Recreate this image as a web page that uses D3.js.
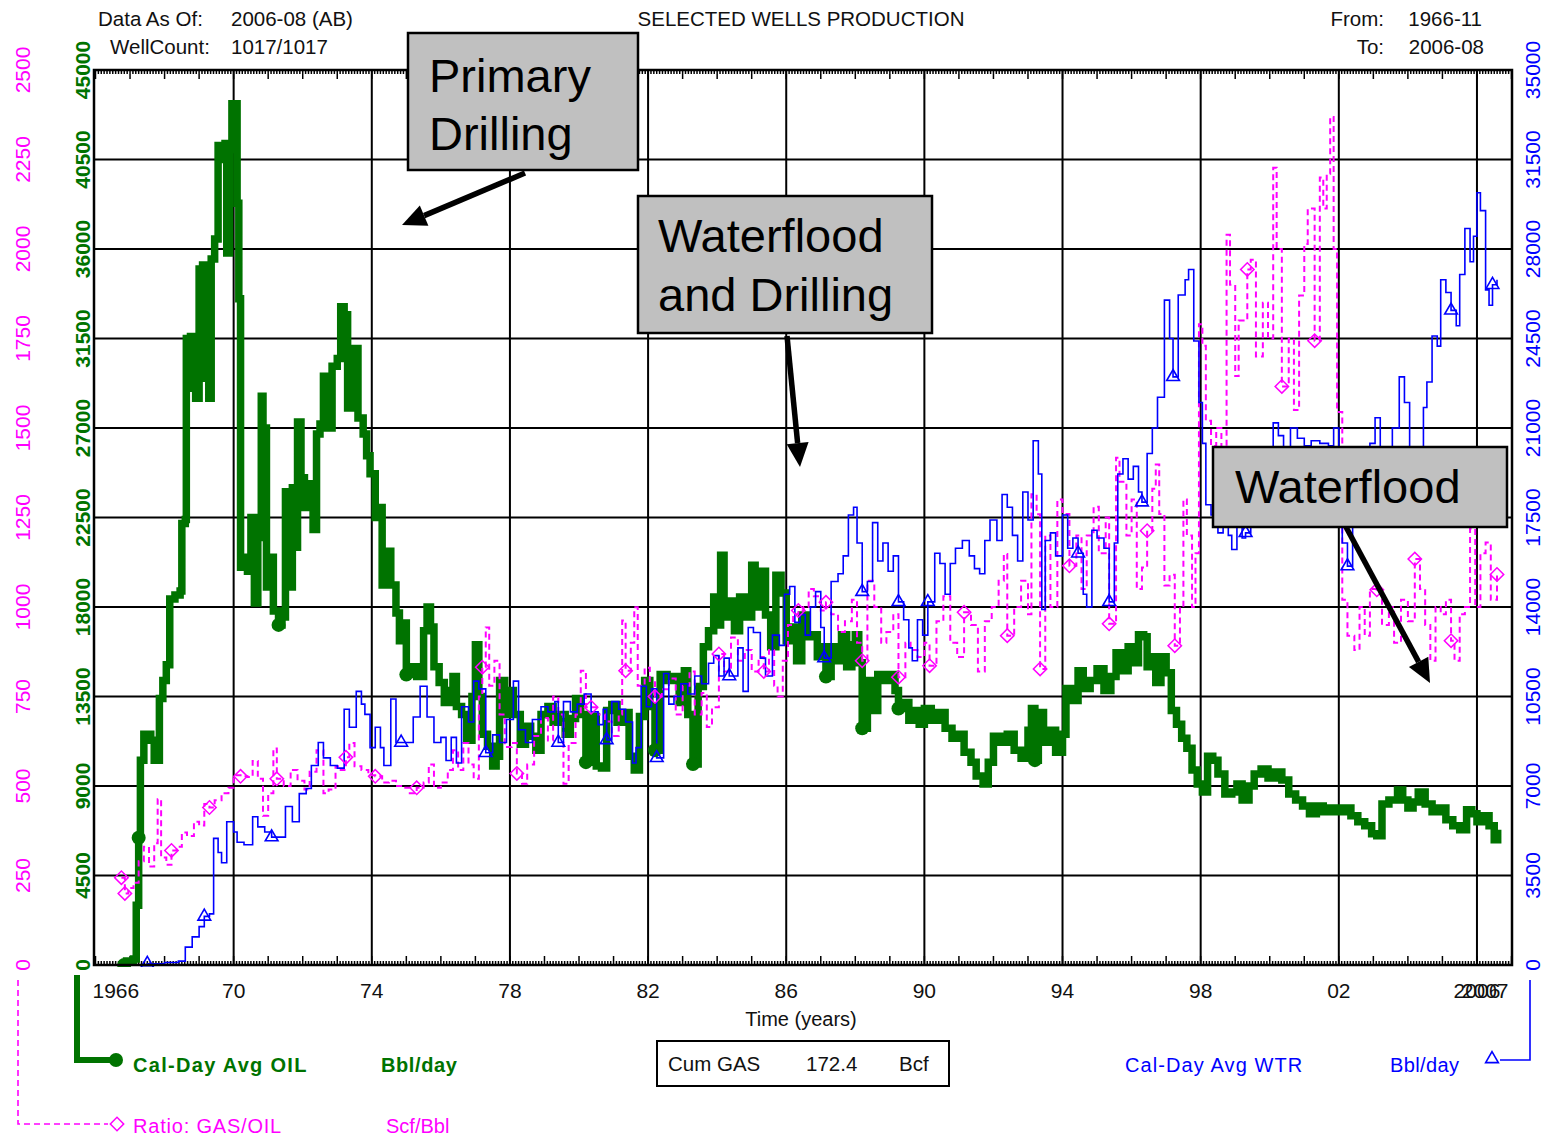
<!DOCTYPE html>
<html>
<head>
<meta charset="utf-8">
<script src="https://cdn.jsdelivr.net/npm/d3@7"></script>
<style>
  html, body { margin: 0; padding: 0; background: #ffffff; }
  svg { display: block; font-family: "Liberation Sans", Arial, sans-serif; }
</style>
</head>
<body>
<svg id="chart" width="1544" height="1136"></svg>
<script>
// ---- Production history: [decimal year, value] ----
// Calendar-day average oil rate, Bbl/day
const oilPoints = [
  [1966.83,0],[1966.9,200],[1967.1,300],[1967.18,3000],[1967.25,6400],[1967.3,10300],[1967.4,11600],
  [1967.6,11300],[1967.7,10300],[1967.85,13400],[1967.95,14300],[1968.05,15100],[1968.15,18400],
  [1968.3,18600],[1968.45,18800],[1968.5,22200],[1968.6,22400],[1968.63,31500],[1968.75,31600],
  [1968.82,29000],[1968.9,28500],[1969.0,35000],[1969.1,35200],[1969.2,29500],[1969.28,28500],
  [1969.35,35500],[1969.45,36500],[1969.55,41200],[1969.65,40500],[1969.75,41300],[1969.8,35800],
  [1969.88,41000],[1969.95,43300],[1970.05,43300],[1970.1,38300],[1970.15,33500],[1970.2,20000],
  [1970.3,20500],[1970.4,19800],[1970.5,22500],[1970.6,18200],[1970.7,21500],[1970.8,28600],
  [1970.85,27000],[1970.95,19000],[1971.05,20500],[1971.15,17800],[1971.3,17100],[1971.4,17500],
  [1971.5,23800],[1971.6,19000],[1971.7,24000],[1971.8,21000],[1971.85,27300],[1971.95,24500],
  [1972.05,23000],[1972.15,24200],[1972.3,21900],[1972.4,26700],[1972.5,27200],[1972.6,29600],
  [1972.7,27000],[1972.85,30100],[1973.0,30500],[1973.1,33100],[1973.2,32700],[1973.3,28000],
  [1973.4,31000],[1973.5,31000],[1973.6,27500],[1973.75,26700],[1973.85,25600],[1973.95,24700],
  [1974.1,22500],[1974.2,23000],[1974.3,19100],[1974.45,20800],[1974.55,19100],[1974.7,17700],
  [1974.8,16300],[1974.9,17200],[1975.0,14600],[1975.15,15000],[1975.3,14500],[1975.5,16800],
  [1975.6,18000],[1975.7,17000],[1975.8,15000],[1975.95,14200],[1976.1,13200],[1976.25,13800],
  [1976.35,14500],[1976.45,13000],[1976.6,12600],[1976.75,11300],[1976.9,13500],[1977.0,16100],
  [1977.1,13500],[1977.2,11600],[1977.35,11000],[1977.5,10000],[1977.6,10500],[1977.7,14300],
  [1977.85,12600],[1978.0,13800],[1978.1,12600],[1978.3,11100],[1978.45,12000],[1978.6,11500],
  [1978.75,10800],[1978.9,12600],[1979.1,13000],[1979.25,12200],[1979.4,12600],[1979.6,11600],
  [1979.75,12400],[1979.9,13400],[1980.05,12600],[1980.2,10200],[1980.35,12500],[1980.5,10000],
  [1980.65,9900],[1980.8,12800],[1980.95,13100],[1981.1,12200],[1981.3,12700],[1981.45,10500],
  [1981.6,9800],[1981.75,12500],[1981.9,14300],[1982.05,13000],[1982.2,10800],[1982.35,14600],
  [1982.55,14300],[1982.75,14500],[1982.9,13200],[1983.05,14800],[1983.15,12600],[1983.3,10100],
  [1983.45,14000],[1983.6,16000],[1983.75,16800],[1983.9,18500],[1984.0,17100],[1984.1,20600],
  [1984.2,17500],[1984.35,18300],[1984.5,16800],[1984.65,18500],[1984.8,17500],[1985.0,20100],
  [1985.1,18000],[1985.25,19800],[1985.4,17600],[1985.55,16000],[1985.7,19600],[1985.85,18700],
  [1986.0,16300],[1986.15,17000],[1986.3,15300],[1986.45,17600],[1986.6,16500],[1986.75,16600],
  [1986.9,15500],[1987.05,16000],[1987.15,14500],[1987.3,16000],[1987.45,15300],[1987.6,16600],
  [1987.75,15000],[1987.9,16100],[1988.0,16600],[1988.1,15200],[1988.2,11900],[1988.35,14300],
  [1988.5,12800],[1988.65,14600],[1988.85,14300],[1989.0,14600],[1989.15,13800],[1989.25,12900],
  [1989.4,13200],[1989.55,12300],[1989.7,12800],[1989.85,12100],[1990.0,12900],[1990.2,12300],
  [1990.4,12700],[1990.6,11900],[1990.8,11400],[1991.0,11600],[1991.15,10700],[1991.35,10200],
  [1991.5,9500],[1991.7,9100],[1991.85,10200],[1992.0,11500],[1992.2,11200],[1992.4,11600],
  [1992.6,10800],[1992.8,10400],[1993.0,11800],[1993.1,12900],[1993.2,10300],[1993.3,12700],
  [1993.45,11200],[1993.6,11800],[1993.8,10700],[1994.0,11600],[1994.1,13900],[1994.3,13300],
  [1994.45,14800],[1994.6,13900],[1994.8,14300],[1995.0,14900],[1995.2,13800],[1995.4,14500],
  [1995.55,15700],[1995.7,14800],[1995.9,16000],[1996.05,15200],[1996.2,16600],[1996.35,16500],
  [1996.45,15000],[1996.55,15500],[1996.7,14200],[1996.85,15500],[1997.0,14700],[1997.15,12800],
  [1997.3,12100],[1997.45,11400],[1997.6,10900],[1997.75,9800],[1997.9,9100],[1998.05,8700],
  [1998.2,10500],[1998.35,10300],[1998.5,9600],[1998.7,8600],[1998.9,8700],[1999.05,9100],
  [1999.2,8300],[1999.4,9000],[1999.55,9600],[1999.75,9850],[1999.95,9400],[2000.15,9700],
  [2000.35,9300],[2000.55,8600],[2000.75,8300],[2000.95,8000],[2001.15,7600],[2001.35,8000],
  [2001.55,7700],[2001.75,7900],[2001.95,7700],[2002.15,7900],[2002.35,7500],[2002.55,7200],
  [2002.75,7000],[2002.95,6600],[2003.1,6500],[2003.25,8100],[2003.45,8300],[2003.7,8800],
  [2003.85,8300],[2004.0,7900],[2004.15,8200],[2004.3,8700],[2004.5,8100],[2004.7,7700],
  [2004.9,7900],[2005.1,7300],[2005.3,7000],[2005.5,6800],[2005.7,7800],[2005.85,7600],
  [2006.0,7200],[2006.2,7500],[2006.35,7000],[2006.5,6300],[2006.6,6800]
];
const oilMarkYears = [1966.83, 1967.25, 1971.3, 1975.0, 1980.2, 1982.2, 1983.3, 1987.15, 1988.2, 1989.25, 1993.2];

// Calendar-day average water rate, Bbl/day
const waterPoints = [
  [1966.83,0],[1967.5,50],[1968.0,100],[1968.4,150],[1968.6,700],[1968.8,1100],[1969.0,1500],
  [1969.15,1900],[1969.3,2000],[1969.42,4950],[1969.55,4400],[1969.65,4000],[1969.8,5600],
  [1970.0,5200],[1970.1,4800],[1970.3,4700],[1970.45,4700],[1970.55,5800],[1970.7,5400],
  [1970.9,5200],[1971.1,5000],[1971.3,5000],[1971.5,6200],[1971.7,5600],[1971.9,6700],
  [1972.1,6900],[1972.25,7800],[1972.45,8700],[1972.6,8100],[1972.8,7800],[1973.0,7700],
  [1973.2,10000],[1973.35,9300],[1973.55,10700],[1973.7,10200],[1973.8,9800],[1973.95,8500],
  [1974.1,9300],[1974.25,8500],[1974.35,7800],[1974.55,10400],[1974.7,8700],[1974.85,8700],
  [1975.0,8700],[1975.2,9700],[1975.4,10900],[1975.6,9700],[1975.8,8700],[1976.0,8900],
  [1976.15,8000],[1976.3,8900],[1976.45,7900],[1976.6,10100],[1976.8,9500],[1976.95,11100],
  [1977.1,10800],[1977.3,8300],[1977.5,9000],[1977.7,8700],[1977.9,9600],[1978.1,11100],
  [1978.25,9200],[1978.45,8700],[1978.65,9600],[1978.9,10100],[1979.1,9900],[1979.3,10300],
  [1979.4,8700],[1979.55,10300],[1979.75,9900],[1979.95,10200],[1980.15,10600],[1980.35,9900],
  [1980.55,9400],[1980.7,10000],[1980.8,8800],[1980.95,10300],[1981.15,10000],[1981.35,9500],
  [1981.55,7900],[1981.65,8500],[1981.8,10900],[1981.95,10100],[1982.1,10800],[1982.25,8100],
  [1982.45,11400],[1982.6,10200],[1982.75,10500],[1982.95,11000],[1983.15,10600],[1983.35,11300],
  [1983.55,11000],[1983.75,11800],[1983.9,12100],[1984.05,11300],[1984.2,12000],[1984.35,11300],
  [1984.5,11300],[1984.6,12400],[1984.75,10700],[1984.9,13200],[1985.05,13000],[1985.25,12000],
  [1985.4,11300],[1985.6,12900],[1985.8,12500],[1985.95,14500],[1986.1,14800],[1986.25,13400],
  [1986.4,13700],[1986.55,12900],[1986.7,14000],[1986.85,14600],[1987.0,13200],[1987.1,12000],
  [1987.3,15000],[1987.5,15300],[1987.65,16000],[1987.8,17600],[1987.95,17900],[1988.05,16500],
  [1988.2,14600],[1988.35,15000],[1988.5,17300],[1988.65,15800],[1988.8,16500],[1988.95,15400],
  [1989.1,16000],[1989.25,14200],[1989.4,13500],[1989.55,12400],[1989.65,11900],[1989.8,13500],
  [1989.95,12900],[1990.1,14200],[1990.3,16100],[1990.45,15700],[1990.6,14500],[1990.75,15700],
  [1990.9,16300],[1991.1,16600],[1991.3,16000],[1991.45,15500],[1991.6,15300],[1991.75,16600],
  [1991.9,17400],[1992.1,16600],[1992.25,18400],[1992.4,17900],[1992.55,16800],[1992.7,15800],
  [1992.85,18500],[1993.0,17400],[1993.15,20500],[1993.3,19200],[1993.4,13900],[1993.5,16600],
  [1993.65,16900],[1993.8,16000],[1994.0,17600],[1994.15,16300],[1994.3,16700],[1994.45,16100],
  [1994.6,14500],[1994.7,14000],[1994.85,17000],[1995.0,16700],[1995.2,16300],[1995.35,14200],
  [1995.5,16500],[1995.6,19200],[1995.75,19800],[1995.9,19000],[1996.05,19500],[1996.2,18500],
  [1996.3,18100],[1996.45,20000],[1996.6,21000],[1996.75,22200],[1996.95,26000],[1997.1,24500],
  [1997.2,23000],[1997.35,26200],[1997.55,26800],[1997.65,27200],[1997.8,24400],[1997.95,22000],
  [1998.05,20400],[1998.15,18000],[1998.3,17600],[1998.5,16900],[1998.65,17400],[1998.8,16800],
  [1998.9,16250],[1999.05,17200],[1999.2,16700],[1999.3,16900],[1999.45,17900],[1999.6,17300],
  [1999.75,18400],[1999.9,20000],[2000.1,21200],[2000.25,20700],[2000.4,20200],[2000.6,21000],
  [2000.8,20600],[2001.0,20300],[2001.2,20500],[2001.45,20400],[2001.7,20300],[2001.85,21000],
  [2002.0,19600],[2002.1,16500],[2002.25,15600],[2002.4,17200],[2002.55,17500],[2002.7,18600],
  [2002.9,20400],[2003.05,21400],[2003.2,19500],[2003.4,19800],[2003.55,21000],[2003.75,23000],
  [2003.9,22000],[2004.05,19500],[2004.15,17500],[2004.3,19000],[2004.45,21800],[2004.55,22800],
  [2004.7,24600],[2004.85,24200],[2004.95,26800],[2005.1,26300],[2005.25,25600],[2005.4,25000],
  [2005.5,27000],[2005.65,28800],[2005.8,27500],[2005.9,28500],[2006.0,30200],[2006.1,29500],
  [2006.25,26400],[2006.35,25800],[2006.45,26600],[2006.58,26800]
];
const waterMarkYears = [1967.5, 1969.15, 1971.1, 1974.85, 1977.3, 1979.4, 1980.8, 1982.25, 1984.35,
  1987.1, 1988.2, 1989.25, 1990.1, 1994.45, 1995.35, 1996.3, 1997.2, 1999.3, 2002.25, 2005.25, 2006.45];

// Gas/oil ratio, Scf/Bbl
const gorPoints = [
  [1966.75,244],[1966.85,200],[1966.95,215],[1967.1,230],[1967.25,290],[1967.4,330],[1967.55,275],
  [1967.7,340],[1967.8,463],[1967.9,300],[1968.05,280],[1968.2,320],[1968.35,330],[1968.5,370],
  [1968.65,360],[1968.85,400],[1969.0,390],[1969.15,450],[1969.3,440],[1969.45,460],[1969.65,480],
  [1969.85,495],[1970.0,530],[1970.2,527],[1970.4,525],[1970.55,570],[1970.7,520],[1970.85,417],
  [1971.0,480],[1971.15,605],[1971.25,520],[1971.45,500],[1971.65,545],[1971.85,515],[1972.05,490],
  [1972.2,540],[1972.4,600],[1972.6,480],[1972.75,490],[1972.95,555],[1973.1,545],[1973.25,580],
  [1973.35,620],[1973.5,555],[1973.7,545],[1973.9,530],[1974.1,527],[1974.3,510],[1974.5,515],
  [1974.7,500],[1974.9,495],[1975.1,480],[1975.3,495],[1975.5,510],[1975.65,560],[1975.8,495],
  [1976.0,510],[1976.2,545],[1976.35,600],[1976.5,545],[1976.65,620],[1976.8,560],[1976.95,520],
  [1977.1,750],[1977.2,832],[1977.3,943],[1977.4,780],[1977.55,850],[1977.7,700],[1977.85,609],
  [1978.05,620],[1978.2,535],[1978.35,506],[1978.5,560],[1978.7,640],[1978.9,690],[1979.1,627],
  [1979.25,750],[1979.4,700],[1979.55,506],[1979.7,620],[1979.9,700],[1980.05,822],[1980.2,720],
  [1980.35,720],[1980.55,700],[1980.75,680],[1980.95,640],[1981.15,700],[1981.25,962],[1981.35,822],
  [1981.5,900],[1981.6,999],[1981.7,780],[1981.9,830],[1982.05,790],[1982.2,750],[1982.4,770],
  [1982.6,800],[1982.8,700],[1983.0,780],[1983.2,820],[1983.35,700],[1983.55,760],[1983.7,665],
  [1983.85,720],[1984.05,869],[1984.2,820],[1984.4,915],[1984.6,850],[1984.8,880],[1985.0,820],
  [1985.2,860],[1985.35,820],[1985.5,880],[1985.65,780],[1985.75,750],[1985.9,850],[1986.05,950],
  [1986.2,980],[1986.35,990],[1986.5,1000],[1986.65,1050],[1986.8,1030],[1987.0,990],[1987.15,1013],
  [1987.3,980],[1987.5,930],[1987.7,960],[1987.9,1020],[1988.05,900],[1988.2,850],[1988.35,1073],
  [1988.55,1000],[1988.75,900],[1988.9,930],[1989.1,980],[1989.25,804],[1989.45,900],[1989.6,880],
  [1989.8,860],[1990.0,900],[1990.15,836],[1990.35,960],[1990.55,1030],[1990.75,900],[1990.95,860],
  [1991.15,985],[1991.35,950],[1991.55,820],[1991.75,960],[1991.95,1000],[1992.15,1073],[1992.3,1148],
  [1992.4,920],[1992.6,1000],[1992.8,1073],[1993.0,980],[1993.1,1315],[1993.25,1259],[1993.35,827],
  [1993.5,1200],[1993.65,1000],[1993.85,1300],[1994.0,1260],[1994.2,1115],[1994.4,1200],[1994.55,1050],
  [1994.7,1200],[1994.9,1280],[1995.05,1150],[1995.25,1250],[1995.35,953],[1995.55,1417],[1995.65,1350],
  [1995.85,1200],[1996.0,1300],[1996.15,1050],[1996.3,1110],[1996.45,1213],[1996.6,1330],[1996.7,1398],
  [1996.8,1260],[1996.95,1060],[1997.1,1090],[1997.25,892],[1997.4,1000],[1997.5,1300],[1997.6,1200],
  [1997.75,1000],[1997.85,1150],[1997.95,1790],[1998.05,1730],[1998.15,1520],[1998.3,1450],[1998.45,1500],
  [1998.6,1280],[1998.75,2040],[1998.85,1900],[1999.0,1645],[1999.1,1800],[1999.35,1943],[1999.45,1970],
  [1999.6,1700],[1999.8,1850],[1999.95,1750],[2000.1,2227],[2000.2,2000],[2000.35,1616],[2000.55,1750],
  [2000.7,1550],[2000.85,1870],[2001.0,2014],[2001.1,2113],[2001.3,1744],[2001.45,2200],[2001.55,2113],
  [2001.65,2210],[2001.75,2369],[2001.85,2000],[2001.95,1545],[2002.1,1020],[2002.25,920],[2002.45,880],
  [2002.6,1000],[2002.75,920],[2002.9,1050],[2003.1,1048],[2003.25,950],[2003.45,1000],[2003.6,900],
  [2003.8,1020],[2004.0,960],[2004.2,1134],[2004.35,1050],[2004.5,950],[2004.65,850],[2004.8,1000],
  [2004.95,980],[2005.1,1020],[2005.25,906],[2005.35,850],[2005.5,980],[2005.65,1000],[2005.8,1219],
  [2005.95,1000],[2006.1,1150],[2006.25,1180],[2006.4,1020],[2006.58,1091]
];
const gorMarkYears = [1966.75, 1966.85, 1968.2, 1969.3, 1970.2, 1971.25, 1973.25, 1974.1, 1975.3, 1977.2,
  1978.2, 1980.35, 1981.35, 1982.2, 1984.05, 1985.35, 1986.35, 1987.15, 1988.2, 1989.25, 1990.15,
  1991.15, 1992.4, 1993.35, 1994.2, 1995.35, 1996.45, 1997.25, 1999.35, 2000.35, 2001.3, 2003.1,
  2004.2, 2005.25, 2006.58];

// ---- Axis ticks and labels ----
const oilTicks = [0, 4500, 9000, 13500, 18000, 22500, 27000, 31500, 36000, 40500, 45000];
const gorTicks = [0, 250, 500, 750, 1000, 1250, 1500, 1750, 2000, 2250, 2500];
const waterTicks = [0, 3500, 7000, 10500, 14000, 17500, 21000, 24500, 28000, 31500, 35000];
const gridYears = [1970, 1974, 1978, 1982, 1986, 1990, 1994, 1998, 2002, 2006];
const yearLabels = [
  { year: 1966, text: "1966", anchor: "start", dx: -3 },
  { year: 1970, text: "70" }, { year: 1974, text: "74" }, { year: 1978, text: "78" },
  { year: 1982, text: "82" }, { year: 1986, text: "86" }, { year: 1990, text: "90" },
  { year: 1994, text: "94" }, { year: 1998, text: "98" }, { year: 2002, text: "02" },
  { year: 2006, text: "2006" },
  { year: 2007, text: "2007", anchor: "end", dx: -3 }
];

// ---- Colours ----
const OIL = "#007300", GOR = "#ff00ff", WTR = "#0000ff";

const svg = d3.select("#chart");
const L = 94, R = 1512, T = 70, B = 965;

const x = d3.scaleLinear().domain([1966, 2007]).range([95.5, 1511.5]);
const yOil = d3.scaleLinear().domain([0, 45000]).range([B, T]);
const yGor = d3.scaleLinear().domain([0, 2500]).range([B, T]);
const yWtr = d3.scaleLinear().domain([0, 35000]).range([B, T]);

svg.append("defs").append("clipPath").attr("id", "plotClip")
  .append("rect").attr("x", L).attr("y", T - 2).attr("width", R - L).attr("height", B - T + 4);

// ---- Grid ----
const grid = svg.append("g");
grid.selectAll("line.h").data(oilTicks).join("line")
  .attr("x1", L).attr("x2", R)
  .attr("y1", d => yOil(d)).attr("y2", d => yOil(d))
  .attr("stroke", "#000").attr("stroke-width", 2);
grid.selectAll("line.v").data(gridYears).join("line")
  .attr("x1", d => x(d)).attr("x2", d => x(d))
  .attr("y1", T).attr("y2", B)
  .attr("stroke", "#000").attr("stroke-width", 2);

// monthly / yearly ticks along top and bottom edges, pointing inward
const months = d3.range(0, 41 * 12 + 1);
const tickG = svg.append("g").attr("stroke", "#000").attr("stroke-width", 1.5);
months.forEach(m => {
  const xx = x(1966 + m / 12);
  const len = m % 12 === 0 ? 9 : 4;
  tickG.append("line").attr("x1", xx).attr("x2", xx).attr("y1", B).attr("y2", B - len);
  tickG.append("line").attr("x1", xx).attr("x2", xx).attr("y1", T).attr("y2", T + len);
});

// ---- Series ----
const plot = svg.append("g").attr("clip-path", "url(#plotClip)");

const lineOil = d3.line().x(d => x(d[0])).y(d => yOil(d[1])).curve(d3.curveStepAfter);
const lineGor = d3.line().x(d => x(d[0])).y(d => yGor(d[1])).curve(d3.curveStepAfter);
const lineWtr = d3.line().x(d => x(d[0])).y(d => yWtr(d[1])).curve(d3.curveStepAfter);

plot.append("path").datum(oilPoints).attr("d", lineOil)
  .attr("fill", "none").attr("stroke", OIL).attr("stroke-width", 7.5).attr("stroke-linejoin", "miter");

plot.append("path").datum(gorPoints).attr("d", lineGor)
  .attr("fill", "none").attr("stroke", GOR).attr("stroke-width", 2).attr("stroke-dasharray", "6,4");

plot.append("path").datum(waterPoints).attr("d", lineWtr)
  .attr("fill", "none").attr("stroke", WTR).attr("stroke-width", 1.6);

const pick = (pts, yrs) => pts.filter(p => yrs.includes(p[0]));

plot.selectAll("circle.oilmk").data(pick(oilPoints, oilMarkYears)).join("circle")
  .attr("cx", d => x(d[0])).attr("cy", d => yOil(d[1])).attr("r", 7).attr("fill", OIL);

const diamond = d3.symbol().type(d3.symbolSquare).size(90);
plot.selectAll("path.gormk").data(pick(gorPoints, gorMarkYears)).join("path")
  .attr("d", diamond)
  .attr("transform", d => `translate(${x(d[0])},${yGor(d[1])}) rotate(45)`)
  .attr("fill", "none").attr("stroke", GOR).attr("stroke-width", 1.5);

const tri = d3.symbol().type(d3.symbolTriangle).size(70);
plot.selectAll("path.wtrmk").data(pick(waterPoints, waterMarkYears)).join("path")
  .attr("d", tri)
  .attr("transform", d => `translate(${x(d[0])},${yWtr(d[1])})`)
  .attr("fill", "none").attr("stroke", WTR).attr("stroke-width", 1.6);

// ---- Frame ----
svg.append("rect").attr("x", L).attr("y", T).attr("width", R - L).attr("height", B - T)
  .attr("fill", "none").attr("stroke", "#000").attr("stroke-width", 2.5);

// ---- Y axis labels (rotated) ----
const rotLabel = (vals, scale, xPos, color, bold) => {
  svg.append("g").selectAll("text").data(vals).join("text")
    .attr("transform", d => `translate(${xPos},${scale(d)}) rotate(-90)`)
    .attr("text-anchor", "middle")
    .attr("font-size", 21)
    .attr("font-weight", bold ? "bold" : "normal")
    .attr("fill", color)
    .text(d => d);
};
rotLabel(gorTicks, yGor, 30, GOR, false);
rotLabel(oilTicks, yOil, 90, OIL, true);
rotLabel(waterTicks, yWtr, 1540, WTR, false);

// ---- X axis labels ----
svg.append("g").selectAll("text").data(yearLabels).join("text")
  .attr("x", d => x(d.year) + (d.dx || 0)).attr("y", 998)
  .attr("text-anchor", d => d.anchor || "middle")
  .attr("font-size", 21).attr("fill", "#111")
  .text(d => d.text);

svg.append("text").attr("x", 801).attr("y", 1026).attr("text-anchor", "middle")
  .attr("font-size", 20).attr("fill", "#111").text("Time (years)");

// ---- Header ----
const head = svg.append("g").attr("font-size", 20.5).attr("fill", "#111");
head.append("text").attr("x", 98).attr("y", 26).text("Data As Of:");
head.append("text").attr("x", 231).attr("y", 26).text("2006-08 (AB)");
head.append("text").attr("x", 110).attr("y", 54).text("WellCount:");
head.append("text").attr("x", 231).attr("y", 54).text("1017/1017");
head.append("text").attr("x", 801).attr("y", 26).attr("text-anchor", "middle").text("SELECTED WELLS PRODUCTION");
head.append("text").attr("x", 1384).attr("y", 26).attr("text-anchor", "end").text("From:");
head.append("text").attr("x", 1482).attr("y", 26).attr("text-anchor", "end").text("1966-11");
head.append("text").attr("x", 1384).attr("y", 54).attr("text-anchor", "end").text("To:");
head.append("text").attr("x", 1484).attr("y", 54).attr("text-anchor", "end").text("2006-08");

// ---- Cumulative gas box ----
svg.append("rect").attr("x", 657).attr("y", 1041).attr("width", 292).attr("height", 45)
  .attr("fill", "#fff").attr("stroke", "#000").attr("stroke-width", 2);
const cum = svg.append("g").attr("font-size", 20.5).attr("fill", "#111");
cum.append("text").attr("x", 668).attr("y", 1071).text("Cum GAS");
cum.append("text").attr("x", 806).attr("y", 1071).text("172.4");
cum.append("text").attr("x", 899).attr("y", 1071).text("Bcf");

// ---- Legend ----
const leg = svg.append("g");
leg.append("path").attr("d", "M77,975 V1060 H112")
  .attr("fill", "none").attr("stroke", OIL).attr("stroke-width", 6);
leg.append("circle").attr("cx", 116).attr("cy", 1060).attr("r", 7).attr("fill", OIL);
leg.append("text").attr("x", 133).attr("y", 1072).attr("font-size", 20).attr("font-weight", "bold")
  .attr("letter-spacing", 1.3).attr("fill", OIL).text("Cal-Day Avg OIL");
leg.append("text").attr("x", 381).attr("y", 1072).attr("font-size", 20).attr("font-weight", "bold")
  .attr("letter-spacing", 0.6).attr("fill", OIL).text("Bbl/day");

leg.append("path").attr("d", "M18,980 V1124 H108")
  .attr("fill", "none").attr("stroke", GOR).attr("stroke-width", 1.6).attr("stroke-dasharray", "6,4");
leg.append("path").attr("d", diamond).attr("transform", "translate(117,1124) rotate(45)")
  .attr("fill", "none").attr("stroke", GOR).attr("stroke-width", 1.5);
leg.append("text").attr("x", 133).attr("y", 1133).attr("font-size", 20).attr("letter-spacing", 0.8)
  .attr("fill", GOR).text("Ratio: GAS/OIL");
leg.append("text").attr("x", 386).attr("y", 1133).attr("font-size", 20).attr("fill", GOR).text("Scf/Bbl");

leg.append("path").attr("d", "M1500,1060 H1530 V980")
  .attr("fill", "none").attr("stroke", WTR).attr("stroke-width", 1.6);
leg.append("path").attr("d", tri).attr("transform", "translate(1492,1059)")
  .attr("fill", "none").attr("stroke", WTR).attr("stroke-width", 1.6);
leg.append("text").attr("x", 1125).attr("y", 1072).attr("font-size", 20).attr("letter-spacing", 1.1)
  .attr("fill", WTR).text("Cal-Day Avg WTR");
leg.append("text").attr("x", 1390).attr("y", 1072).attr("font-size", 20).attr("letter-spacing", 0.4)
  .attr("fill", WTR).text("Bbl/day");

// ---- Development-phase callouts ----
const notes = [
  { box: [408, 33, 230, 137], lines: ["Primary", "Drilling"], tx: 429, ty: [92, 150],
    arrow: [[525, 173], [402, 225]] },
  { box: [638, 196, 294, 137], lines: ["Waterflood", "and Drilling"], tx: 658, ty: [252, 311],
    arrow: [[787, 336], [800, 467]] },
  { box: [1213, 447, 294, 80], lines: ["Waterflood"], tx: 1235, ty: [503],
    arrow: [[1346, 527], [1430, 683]] }
];
const ann = svg.append("g");
notes.forEach(n => {
  // arrow shaft and head
  const [p0, p1] = n.arrow;
  const ang = Math.atan2(p1[1] - p0[1], p1[0] - p0[0]);
  const headLen = 24, headW = 11;
  const bx = p1[0] - headLen * Math.cos(ang), by = p1[1] - headLen * Math.sin(ang);
  ann.append("line").attr("x1", p0[0]).attr("y1", p0[1]).attr("x2", bx).attr("y2", by)
    .attr("stroke", "#000").attr("stroke-width", 5.5);
  const nx = -Math.sin(ang), ny = Math.cos(ang);
  ann.append("path")
    .attr("d", `M${p1[0]},${p1[1]} L${bx + nx * headW},${by + ny * headW} L${bx - nx * headW},${by - ny * headW} Z`)
    .attr("fill", "#000");
  ann.append("rect").attr("x", n.box[0]).attr("y", n.box[1]).attr("width", n.box[2]).attr("height", n.box[3])
    .attr("fill", "#c0c0c0").attr("stroke", "#000").attr("stroke-width", 2.5);
  n.lines.forEach((t, i) => {
    ann.append("text").attr("x", n.tx).attr("y", n.ty[i]).attr("font-size", 47)
      .attr("fill", "#000").text(t);
  });
});
</script>
</body>
</html>
